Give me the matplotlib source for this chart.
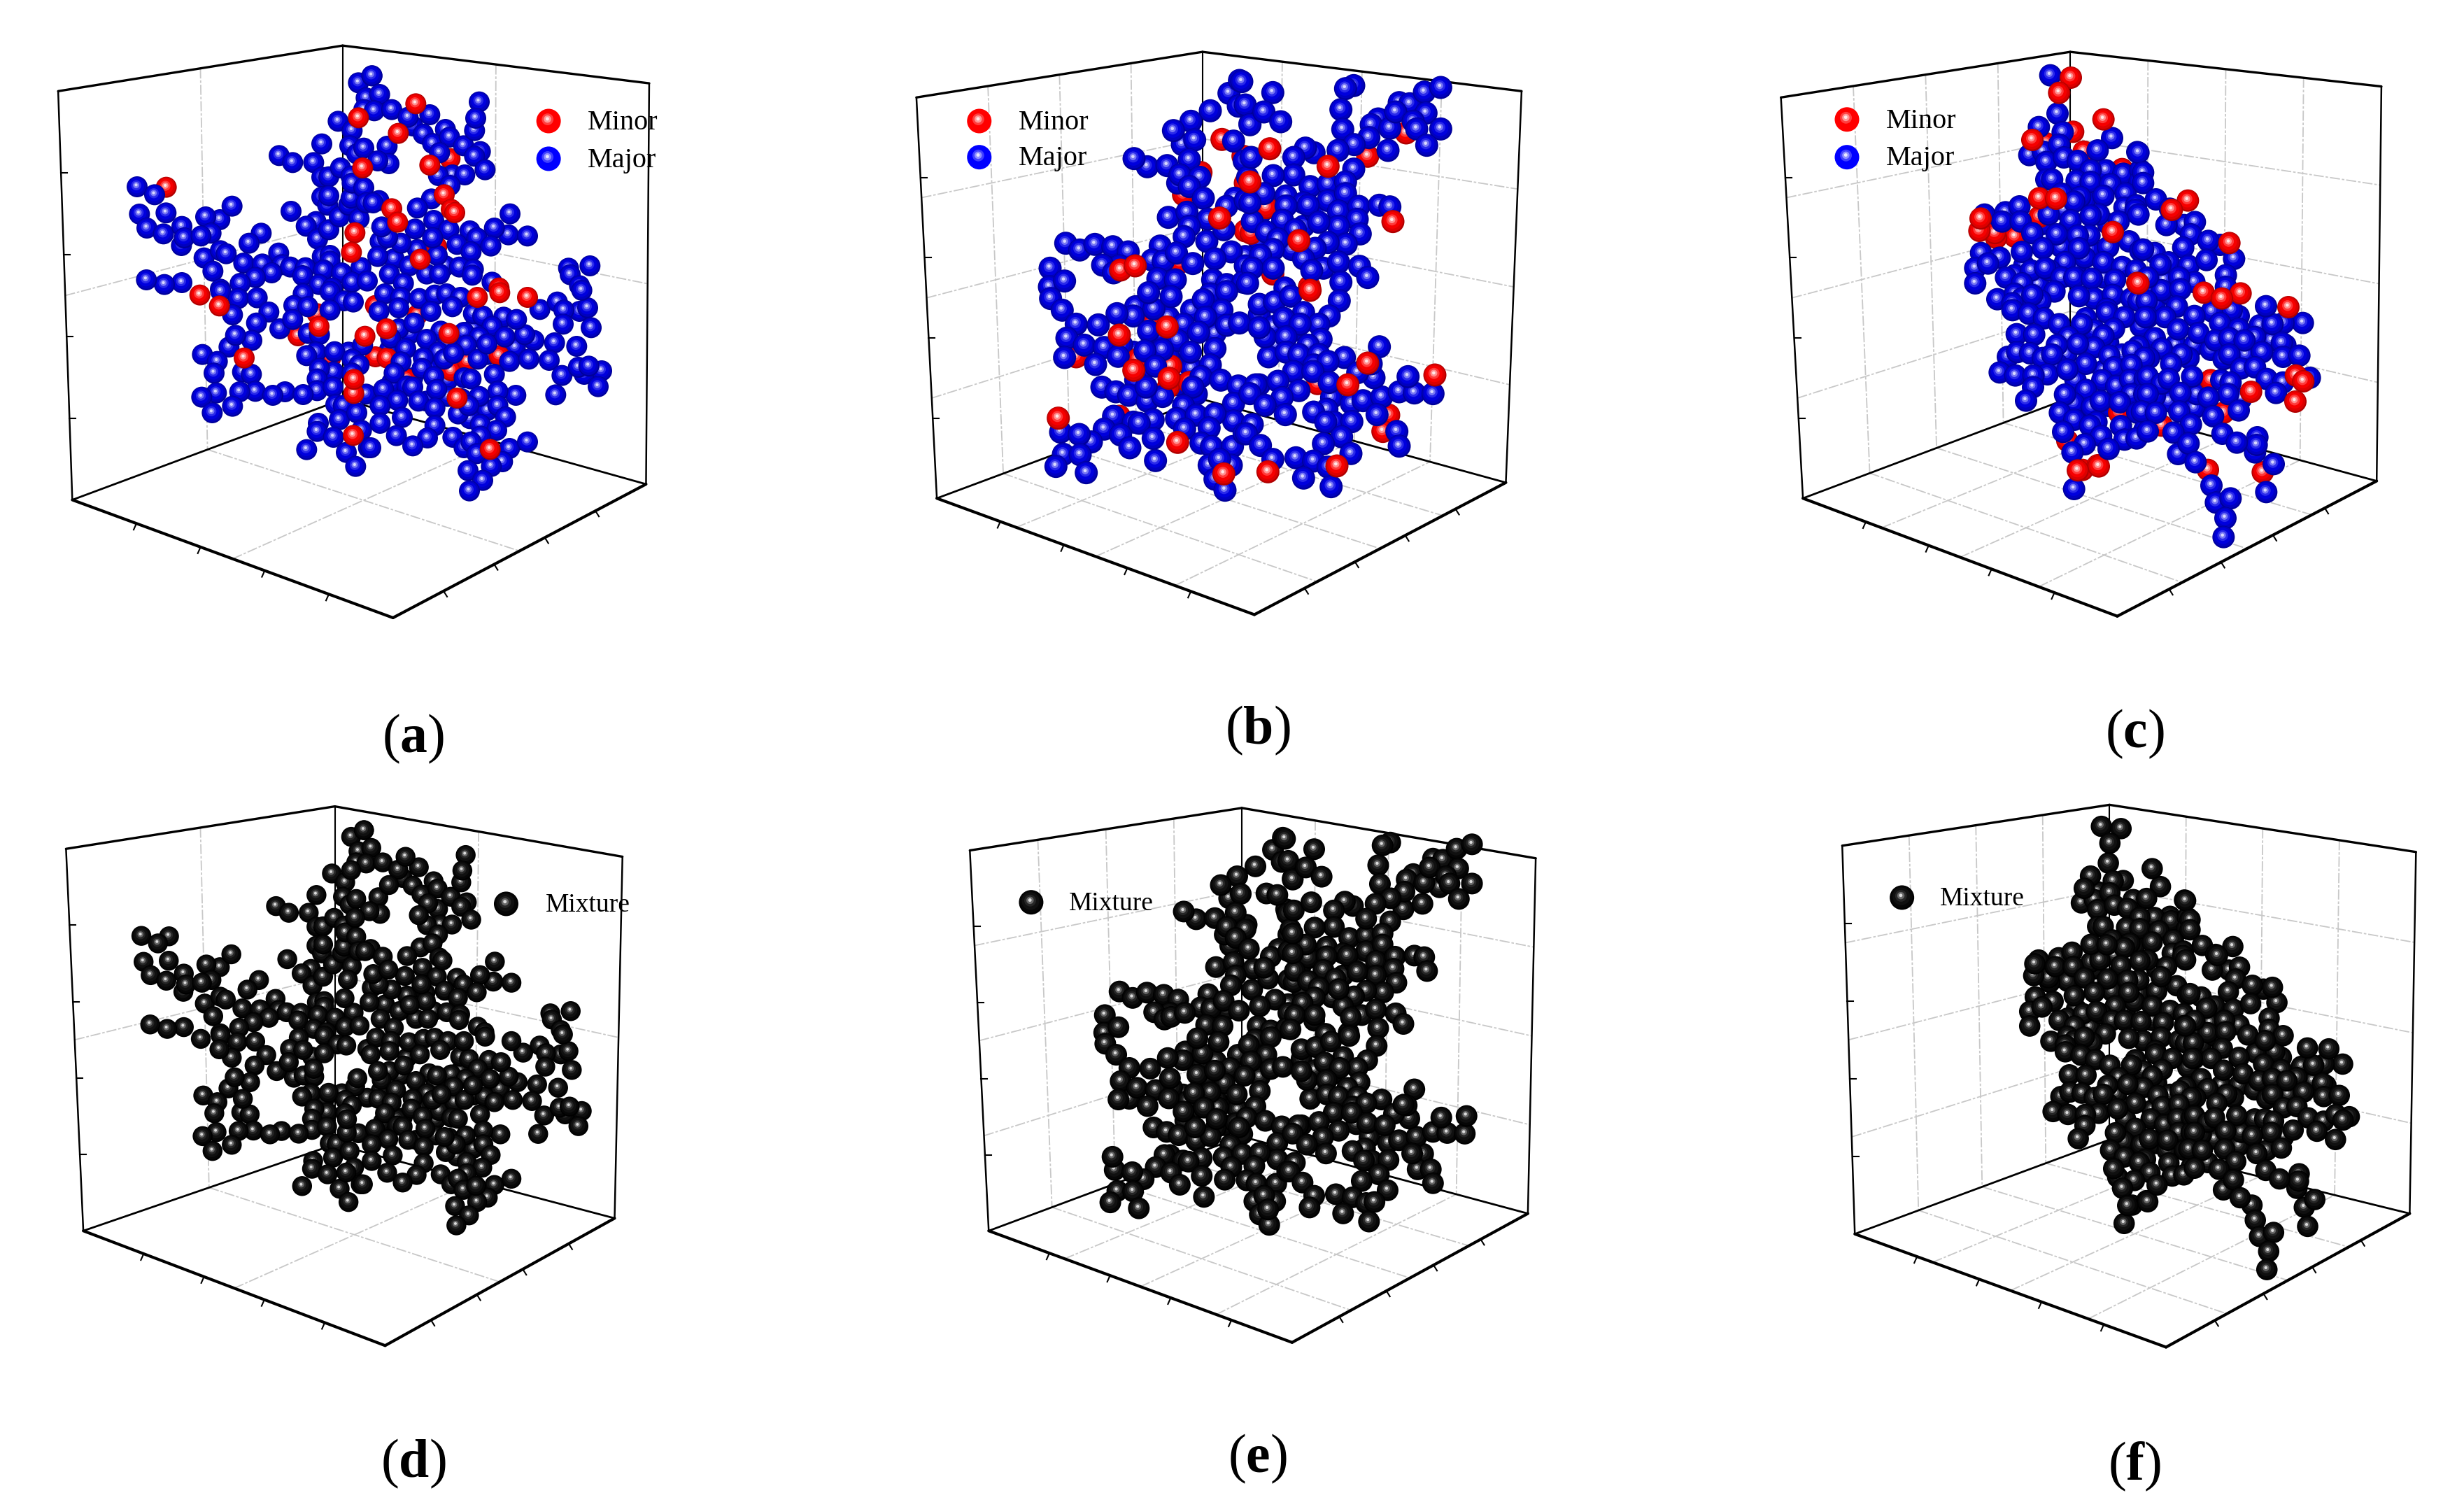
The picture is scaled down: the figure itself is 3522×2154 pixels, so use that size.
import numpy as np
import matplotlib
matplotlib.use("Agg")
import matplotlib.pyplot as plt

W, H = 3523, 2154
DOWN = W / 1568  # the small reference scale -> full pixels

# ---------- sphere centres, in 3x crop pixels ----------
A_CROPS = [(170, 90), (530, 90), (170, 410), (530, 410)]
A_FILL = [
 [],
 [(100,840),(200,800),(320,870)],
 [],
 [(170,200),(300,190),(440,180),(250,350),(330,240),(120,180),(80,270),(180,390),(500,290),(330,400),(570,130),(620,260),(440,560),(500,530),(390,480),(240,490),(330,470),(90,410)],
]
A_BLUE = [
 [(78,531),(153,565),(88,648),(202,643),(120,708),(191,733),(270,701),(268,783),(280,750),(433,672),(372,660),(395,730),(352,742),(485,614),(610,730),(558,773),(365,836),(403,893),(435,805),(460,818),(535,858),(615,862),(685,815),(700,865),(735,875),(655,900),(585,920),(520,945),(435,970),(270,942),(195,950),(118,930),(687,397),(745,427),(835,427),(870,347),(738,636),(845,680),(803,700),(852,755),(900,715),(870,490),(900,488),(950,450),(870,575),(895,610),(900,570),(945,660),(985,610),(995,580),(1030,668),(800,878),(788,912),(872,830),(905,825),(905,850),(878,888),(955,900),(1038,877),(1000,940),(1065,935),(858,950),(915,965),(940,250),(1000,290),(990,355),(1020,390),(1050,365),(995,485),(1000,515),(1050,535),(1060,600),(1027,85),(1085,55),(1060,150),(1050,200)],
 [(5,55),(38,135),(15,205),(90,200),(180,270),(160,233),(253,222),(225,305),(320,285),(265,345),(338,318),(398,355),(295,385),(465,167),(445,290),(450,237),(470,380),(445,400),(490,458),(70,357),(78,432),(30,420),(350,480),(290,483),(403,480),(340,525),(260,583),(200,622),(35,590),(10,600),(270,675),(190,712),(335,715),(425,720),(455,750),(130,773),(40,765),(72,750),(47,703),(285,825),(265,750),(370,778),(590,737),(530,708),(672,742),(597,647),(515,785),(430,810),(30,830),(80,905),(240,905),(295,905),(165,870),(380,875),(440,885),(435,910),(140,945),(520,940),(848,880),(940,870),(855,908),(895,955)],
 [(437,20),(512,50),(593,47),(487,120),(643,108),(590,155),(690,180),(570,230),(472,258),(500,208),(790,30),(750,80),(810,85),(905,20),(965,60),(1005,65),(905,100),(745,140),(812,200),(860,205),(358,290),(422,320),(408,370),(845,280),(805,295),(985,280),(925,278),(1045,250),(1000,310),(1030,335),(920,365),(860,350),(850,395),(530,365),(568,375),(418,455),(355,473),(585,448),(518,450),(712,450),(660,465),(850,445),(790,462),(918,430),(1060,460),(1000,370),(487,512),(400,540),(855,585),(850,620),(930,505),(962,508),(945,570),(1020,540),(920,645),(1040,615),(805,698),(975,710),(1015,770),(1070,690)],
 [(60,30),(128,45),(208,50),(275,35),(325,30),(385,45),(35,105),(120,90),(350,85),(258,105),(185,155),(725,97),(800,65),(895,105),(930,90),(828,100),(905,15),(825,160),(945,175),(440,115),(480,125),(520,170),(700,230),(660,205),(625,140),(400,195),(575,215),(465,215),(788,240),(883,255),(85,220),(240,225),(150,265),(410,250),(290,280),(315,310),(355,285),(225,305),(130,322),(595,320),(460,310),(498,245),(678,310),(765,315),(100,370),(220,350),(270,385),(530,375),(820,380),(915,375),(990,360),(890,345),(935,340),(400,390),(430,395),(975,428),(155,425),(180,430),(55,440),(283,440),(622,465),(545,448),(793,463),(465,470),(115,487),(205,490),(40,510),(275,520),(545,510),(425,565),(375,545),(420,510),(135,560),(40,585),(578,558),(470,590),(275,595),(540,615),(110,638),(243,648),(352,645),(180,682),(470,640),(400,690),(430,665),(595,693),(672,665),(455,715),(565,750),(517,770),(417,788),(480,830),(423,875),(0,690)],
]
A_RED_BACK = [
 [(203,533)],
 [(340,410),(283,788)],
 [(768,210),(850,115),(908,305)],
 [(20,80),(200,120),(20,300),(70,305),(155,395),(345,360),(415,320),(550,295)],
]
A_RED_FRONT = [
 [(1027,235),(1045,450),(1012,728),(997,812)],
 [(193,175),(118,302),(253,438),(315,565),(345,628),(360,642),(90,625),(115,683),(212,842),(550,965)],
 [(858,170),(347,35),(431,82),(537,305),(1007,457),(1008,397),(1055,212),(1005,637)],
 [(457,45),(553,25),(672,45),(68,180),(335,200),(370,477),(512,697)],
]

B_CROPS = [(1470, 90), (1780, 90), (1470, 410), (1780, 410)]
B_FILL = [
 [],
 [(60,650),(100,620),(250,700),(200,800),(60,760),(0,830),(300,640),(350,650)],
 [(600,130),(700,100),(620,330),(700,350),(450,280),(600,300),(500,350),(800,200),(560,200),(400,250),(460,400),(640,420)],
 [(60,120),(120,170),(200,190),(130,250),(220,330),(100,300),(60,420)],
]
B_BLUE = [
 [(860,130),(905,75),(900,185),(950,260),(780,205),(697,250),(660,350),(622,290),(713,330),(880,335),(925,420),(690,415),(510,445),(453,410),(595,440),(640,515),(650,480),(735,490),(690,530),(940,490),(750,580),(885,580),(850,615),(930,590),(600,662),(680,640),(770,670),(690,700),(668,745),(765,765),(838,715),(565,785),(160,773),(220,802),(285,778),(362,788),(428,810),(390,870),(318,867),(530,845),(578,850),(635,815),(705,860),(870,810),(800,840),(930,870),(93,880),(90,960),(155,935),(555,925),(630,930),(790,930),(850,950),(920,940),(365,900)],
 [(-15,80),(118,127),(0,180),(20,265),(80,210),(152,252),(465,97),(430,110),(410,200),(418,285),(570,240),(540,265),(620,280),(660,170),(705,175),(768,125),(838,105),(645,210),(775,215),(720,250),(838,283),(735,283),(778,353),(612,375),(530,320),(467,350),(398,375),(295,385),(258,365),(208,405),(25,405),(208,480),(120,483),(465,455),(278,530),(355,520),(430,510),(175,570),(80,560),(250,600),(355,590),(270,610),(175,613),(430,560),(400,635),(487,615),(575,610),(620,617),(480,670),(400,700),(315,683),(493,733),(160,675),(30,680),(90,725),(215,715),(433,777),(140,755),(355,770),(300,795),(120,800),(65,825),(250,840),(30,880),(120,880),(335,880),(400,855),(285,890),(490,872),(525,920),(410,940),(170,965),(10,945),(20,600)],
 [(95,50),(145,100),(205,160),(300,163),(460,85),(450,125),(380,115),(538,95),(515,25),(612,42),(780,30),(750,55),(850,20),(830,100),(760,130),(665,160),(850,165),(730,195),(905,155),(515,190),(640,230),(165,220),(240,250),(325,260),(385,298),(155,303),(288,333),(575,270),(500,275),(800,265),(695,280),(545,340),(780,335),(740,385),(825,400),(900,425),(315,430),(375,450),(430,465),(510,490),(575,470),(505,430),(720,460),(705,430),(665,510),(880,500),(880,575),(365,555),(535,570),(450,580),(475,585),(635,565),(720,550),(800,545),(670,610),(775,605),(325,610),(395,635),(270,665),(138,623),(218,633),(535,650),(435,690),(150,718),(222,720),(118,770),(248,797),(545,745),(740,670),(785,685),(875,685),(775,765),(870,765),(820,740),(800,825),(843,872),(925,630)],
 [(60,75),(125,65),(195,40),(403,60),(360,125),(250,110),(165,135),(315,160),(85,215),(60,175),(235,160),(175,215),(325,225),(270,250),(175,280),(230,290),(315,290),(295,335),(425,303),(355,320),(207,363),(290,363),(140,405),(370,475),(360,410),(230,445),(45,420),(20,458),(158,475),(85,508),(172,548),(350,525),(293,537),(455,500),(505,488),(585,472),(660,450),(725,455),(805,458),(698,385),(552,390),(482,368),(575,257),(565,548),(540,330),(380,580),(345,580),(457,578),(650,620),(660,683),(30,590),(5,630),(65,680),(413,643),(335,673),(453,715),(118,740),(217,733),(293,747),(355,773),(250,820),(368,857)],
]
B_RED_BACK = [
 [(830,328),(740,470),(665,565),(920,400),(930,515),(930,720),(650,855)],
 [(690,300),(525,400),(90,620),(25,730),(118,905),(275,960)],
 [(205,300),(525,165),(390,555),(470,310),(610,340),(600,430),(690,410)],
 [(310,415),(615,550),(590,620)],
]
B_RED_FRONT = [
 [(820,665),(395,888),(458,870)],
 [(105,368),(355,443),(20,510),(633,680),(230,762)],
 [(390,207),(595,172),(452,358),(603,392),(128,563),(640,667),(838,802)],
 [(525,327),(440,420),(813,378),(393,768),(97,793),(278,15)],
]

C_CROPS = [(2780, 80), (3060, 200), (2780, 440), (3060, 500)]
C_FILL = [
 [(430,780),(530,740),(500,820),(620,830),(340,900),(400,980),(560,900),(680,950),(700,720),(420,720),(600,620),(510,660),(300,940)],
 [(60,700),(120,660),(100,600),(0,800),(60,850),(150,880),(230,880),(300,900),(380,780),(560,860),(620,880),(450,920)],
 [(520,200),(600,130),(700,150),(760,200),(680,270),(560,310),(480,240),(760,300),(700,420),(580,440)],
 [(90,210),(230,250),(240,190),(120,220),(60,200),(430,210)],
]
C_BLUE = [
 [(452,83),(483,247),(403,305),(505,327),(717,352),(655,405),(825,412),(362,425),(420,410),(490,380),(435,455),(510,435),(570,450),(690,490),(625,490),(765,505),(838,490),(835,540),(435,530),(460,530),(565,535),(625,540),(710,550),(680,600),(775,590),(500,590),(580,605),(555,625),(170,680),(260,670),(320,645),(245,710),(325,710),(445,680),(540,705),(660,680),(625,685),(770,650),(820,640),(818,660),(745,710),(375,760),(480,765),(620,770),(570,770),(790,795),(838,835),(700,820),(600,865),(575,825),(420,825),(330,840),(155,845),(235,865),(130,910),(185,890),(262,950),(130,975),(515,885),(680,885),(760,905),(370,920),(450,920),(430,910),(820,920),(330,975),(500,950),(555,950),(630,955),(730,960),(225,1043),(300,1020),(330,1040),(290,1060),(470,1010),(410,1050),(375,1025),(640,1040),(575,1030),(720,1025),(800,1040),(855,1043),(695,1085)],
 [(-10,55),(10,140),(10,185),(65,255),(125,295),(185,365),(110,365),(232,352),(-10,320),(215,405),(340,450),(290,433),(182,462),(60,485),(120,525),(85,535),(205,540),(282,515),(400,510),(10,470),(365,580),(230,610),(165,590),(60,640),(90,645),(170,640),(365,630),(30,590),(-10,690),(25,690),(155,715),(420,755),(390,730),(305,735),(230,755),(30,760),(105,760),(160,812),(248,828),(340,785),(420,810),(695,785),(612,785),(510,795),(565,790),(490,845),(320,860),(380,850),(445,860),(605,870),(537,713),(520,910),(610,930),(680,925),(355,940),(380,920),(430,980),(490,975),(90,895),(205,935),(175,920),(35,935),(130,960)],
 [(290,10),(360,25),(425,45),(605,45),(490,70),(640,95),(587,70),(695,20),(770,40),(860,40),(308,113),(383,115),(725,90),(680,120),(530,125),(480,160),(640,170),(570,155),(830,165),(805,185),(270,210),(310,190),(365,195),(420,215),(460,200),(705,205),(605,240),(855,215),(235,277),(302,290),(440,285),(380,290),(725,255),(525,265),(800,245),(378,340),(675,310),(735,335),(795,308),(605,352),(857,305),(553,410),(515,372),(348,398),(630,425),(668,400),(800,370),(855,370),(750,405),(493,450),(825,450),(555,480),(650,490),(622,505),(755,507),(507,532),(855,525),(670,550),(770,565),(822,560),(600,585),(702,605),(547,620),(554,777)],
 [(540,125),(725,120),(610,140),(30,115),(90,145),(120,125),(220,115),(345,130),(385,140),(30,190),(170,185),(375,190),(290,205),(420,260),(580,185),(5,265),(65,270),(165,265),(310,285),(215,320),(30,350),(140,355),(160,447),(205,402),(235,482),(350,360),(490,440),(500,375),(497,408),(412,398),(570,490),(303,582),(322,655),(385,637),(363,722),(355,803),(538,610)],
]
C_RED_BACK = [
 [(550,325),(435,375),(595,410),(760,485),(405,690),(300,775),(220,780),(215,760),(148,750)],
 [(300,1030)],
 [(747,450),(525,570),(590,695),(655,675),(660,680)],
 [(355,270),(90,325),(288,515),(523,525)],
]
C_RED_FRONT = [
 [(540,93),(490,158),(680,272),(375,360),(405,610),(477,612),(153,697),(720,755),(825,973)],
 [(202,260),(133,300),(380,442),(270,655),(428,658),(348,680),(633,717),(-10,615)],
 [(570,697)],
 [(473,180),(663,222),(665,110),(697,135)],
]

# ---------- frames of the six boxes (small-reference pixels) ----------
# order: top-left, back-top, top-right, bottom-left, back-bottom, bottom-right, front
FRAME_A = [(37,58),(218,29),(413,53),(46,318),(218,254),(411,308),(250,393)]
FRAME_B = [(583,62),(765,33),(968,58),(596,317),(765,254),(958,307),(798,391)]
FRAME_C = [(1133,62),(1317,33),(1515,55),(1147,317),(1317,253),(1512,306),(1347,392)]
FRAME_D = [(42,540),(213,513),(396,545),(53,783),(213,728),(391,775),(245,856)]
FRAME_E = [(617,541),(790,514),(977,546),(629,783),(790,723),(972,772),(822,854)]
FRAME_F = [(1172,538),(1342,512),(1537,542),(1180,785),(1342,725),(1533,772),(1378,857)]
GRID_DIV = [2, 4, 4, 2, 4, 4]
SPHERE_DIAM = {"a": 30, "b": 33, "c": 32}

# ---------- scene windows and where they sit on the page (full pixels) ----------
SCENE = {"a": (130, 930, 60, 760), "b": (1440, 2120, 60, 760), "c": (2750, 3390, 60, 800)}
PLACE = {"a": (130, 930, 60, 760), "b": (1440, 2120, 60, 760), "c": (2750, 3390, 60, 800),
         "d": (139.5, 897.9, 1140.6, 1807), "e": (1521.9, 2161.1, 1145.4, 1806.8),
         "f": (2831.2, 3442.4, 1135.4, 1845.7)}

PANEL_LETTERS = ["a", "b", "c", "d", "e", "f"]
LABEL_POS = [(263,470),(800,465),(1358,467),(263,931),(800,928),(1358,933)]
LEG_AB = [((349,77),(374,78),(349,101),(374,102)),
          ((623,77),(648,78),(623,100),(648,101)),
          ((1175,76),(1200,77),(1175,100),(1200,101))]
LEG_MIX = [((322,575),(347,576)),((656,574),(680,575)),((1210,571),(1234,572))]

# shading: radius fraction, offset fraction (x, up)
SHADE = [(1.00,0.00,0.00),(0.90,-0.02,0.05),(0.72,-0.05,0.10),(0.48,-0.08,0.14),(0.30,-0.09,0.16),(0.14,-0.10,0.18)]
BLUE_RAMP = ["#00009a","#0000c0","#0000dd","#2a2aea","#7878f4","#d8d8ff"]
RED_RAMP  = ["#b00000","#dc0000","#f60000","#ff3a3a","#ff9090","#ffe8e8"]
BLACK_RAMP = ["#000000","#060606","#101010","#262626","#686868","#dcdcdc"]


def from_crops(groups, crops):
    out = []
    for pts, (ox, oy) in zip(groups, crops):
        out.extend((ox + x / 3, oy + y / 3) for x, y in pts)
    return out


def spheres(ax, pts, ramps, diam):
    """Every sphere is a stack of shrinking discs, drawn strictly in list order."""
    xs, ys, sz, cs = [], [], [], []
    rad = diam / 2
    sx = abs(ax.get_xlim()[1] - ax.get_xlim()[0])
    px = ax.get_position().width * W / sx
    for (x, y), ramp in zip(pts, ramps):
        for (f, ox, oy), col in zip(SHADE, ramp):
            xs.append(x + ox * rad)
            ys.append(y - oy * rad)
            sz.append((2 * f * rad * px * 0.72) ** 2)
            cs.append(col)
    ax.scatter(xs, ys, s=sz, c=cs, linewidths=0, clip_on=False)


def lerp(p, q, t):
    return (p[0] + (q[0] - p[0]) * t, p[1] + (q[1] - p[1]) * t)


def draw_frame(bg, fr, n):
    tl, bt, tr, bl, bb, br, fc = [(x * DOWN, y * DOWN) for x, y in fr]
    grid = dict(color="#c8c8c8", lw=1.3, ls=(0, (8, 1.5, 2, 1.5)), zorder=1)
    walls = [(tl, bt, bl, bb), (bt, tr, bb, br), (bl, bb, fc, br)]
    for k in range(1, n):
        t = k / n
        for a, b, c, d in walls:
            p, q = lerp(a, b, t), lerp(c, d, t)
            bg.plot([p[0], q[0]], [p[1], q[1]], **grid)
            p, q = lerp(a, c, t), lerp(b, d, t)
            bg.plot([p[0], q[0]], [p[1], q[1]], **grid)
    for p, q, lw in [(tl, bt, 2.4), (bt, tr, 2.4), (tl, bl, 1.8), (tr, br, 1.8), (bt, bb, 1.5),
                     (bl, bb, 2.0), (bb, br, 2.0), (bl, fc, 3.0), (fc, br, 3.0)]:
        bg.plot([p[0], q[0]], [p[1], q[1]], color="black", lw=lw, solid_capstyle="round", zorder=2)
    for k in range(1, 5):
        t = k / 5
        for a, b, dx, dy in [(tl, bl, 9, 0), (bl, fc, -4, 9), (fc, br, 5, 8)]:
            p = lerp(a, b, t)
            bg.plot([p[0], p[0] + dx], [p[1], p[1] + dy], color="black", lw=1.5, zorder=2)


plt.rcParams["font.family"] = ["Liberation Serif", "DejaVu Serif"]
plt.rcParams["mathtext.fontset"] = "custom"
plt.rcParams["mathtext.rm"] = "Liberation Serif"
plt.rcParams["mathtext.bf"] = "Liberation Serif:bold"
fig = plt.figure(figsize=(W / 100, H / 100), dpi=100, facecolor="white")

bg = fig.add_axes([0, 0, 1, 1])
bg.set_xlim(0, W)
bg.set_ylim(H, 0)
bg.axis("off")

for fr, n in zip([FRAME_A, FRAME_B, FRAME_C, FRAME_D, FRAME_E, FRAME_F], GRID_DIV):
    draw_frame(bg, fr, n)


def panel(name, scene_key):
    x0, x1, y0, y1 = PLACE[name]
    ax = fig.add_axes([x0 / W, 1 - y1 / H, (x1 - x0) / W, (y1 - y0) / H])
    sx0, sx1, sy0, sy1 = SCENE[scene_key]
    ax.set_xlim(sx0, sx1)
    ax.set_ylim(sy1, sy0)
    ax.axis("off")
    ax.patch.set_alpha(0)
    return ax


SETS = [("a", "d", A_FILL, A_BLUE, A_RED_BACK, A_RED_FRONT, A_CROPS),
        ("b", "e", B_FILL, B_BLUE, B_RED_BACK, B_RED_FRONT, B_CROPS),
        ("c", "f", C_FILL, C_BLUE, C_RED_BACK, C_RED_FRONT, C_CROPS)]
for top, low, fill, blue, rb, rf, crops in SETS:
    fill_pts = from_crops(fill, crops)
    blue_pts = from_crops(blue, crops)
    rb_pts = from_crops(rb, crops)
    rf_pts = from_crops(rf, crops)
    pts = fill_pts + rb_pts + blue_pts + rf_pts
    ramps = ([BLUE_RAMP] * len(fill_pts) + [RED_RAMP] * len(rb_pts)
             + [BLUE_RAMP] * len(blue_pts) + [RED_RAMP] * len(rf_pts))
    spheres(panel(top, top), pts, ramps, SPHERE_DIAM[top])
    spheres(panel(low, top), pts, [BLACK_RAMP] * len(pts), SPHERE_DIAM[top])

leg = fig.add_axes([0, 0, 1, 1])
leg.set_xlim(0, W)
leg.set_ylim(H, 0)
leg.axis("off")
leg.patch.set_alpha(0)
FLAT_BLUE = ["#0000ff", "#0000ff", "#0000ff", "#4040ff", "#9090ff", "#e8e8ff"]
FLAT_RED = ["#ff0000", "#ff0000", "#ff0000", "#ff4040", "#ff9898", "#ffe8e8"]
for (mr, tr, mb, tb) in LEG_AB:
    spheres(leg, [(mr[0] * DOWN, mr[1] * DOWN), (mb[0] * DOWN, mb[1] * DOWN)], [FLAT_RED, FLAT_BLUE], 35)
    leg.text(tr[0] * DOWN, tr[1] * DOWN, "Minor", fontsize=29, va="center", ha="left")
    leg.text(tb[0] * DOWN, tb[1] * DOWN, "Major", fontsize=29, va="center", ha="left")
for (m, t) in LEG_MIX:
    spheres(leg, [(m[0] * DOWN, m[1] * DOWN)], [BLACK_RAMP], 35)
    leg.text(t[0] * DOWN, t[1] * DOWN, "Mixture", fontsize=27, va="center", ha="left")
for letter, (x, y) in zip(PANEL_LETTERS, LABEL_POS):
    leg.text(x * DOWN, y * DOWN, "(" + r"$\mathbf{" + letter + "}$" + ")", fontsize=56, va="center", ha="center")

fig.savefig("out.png", dpi=100, facecolor="white")
